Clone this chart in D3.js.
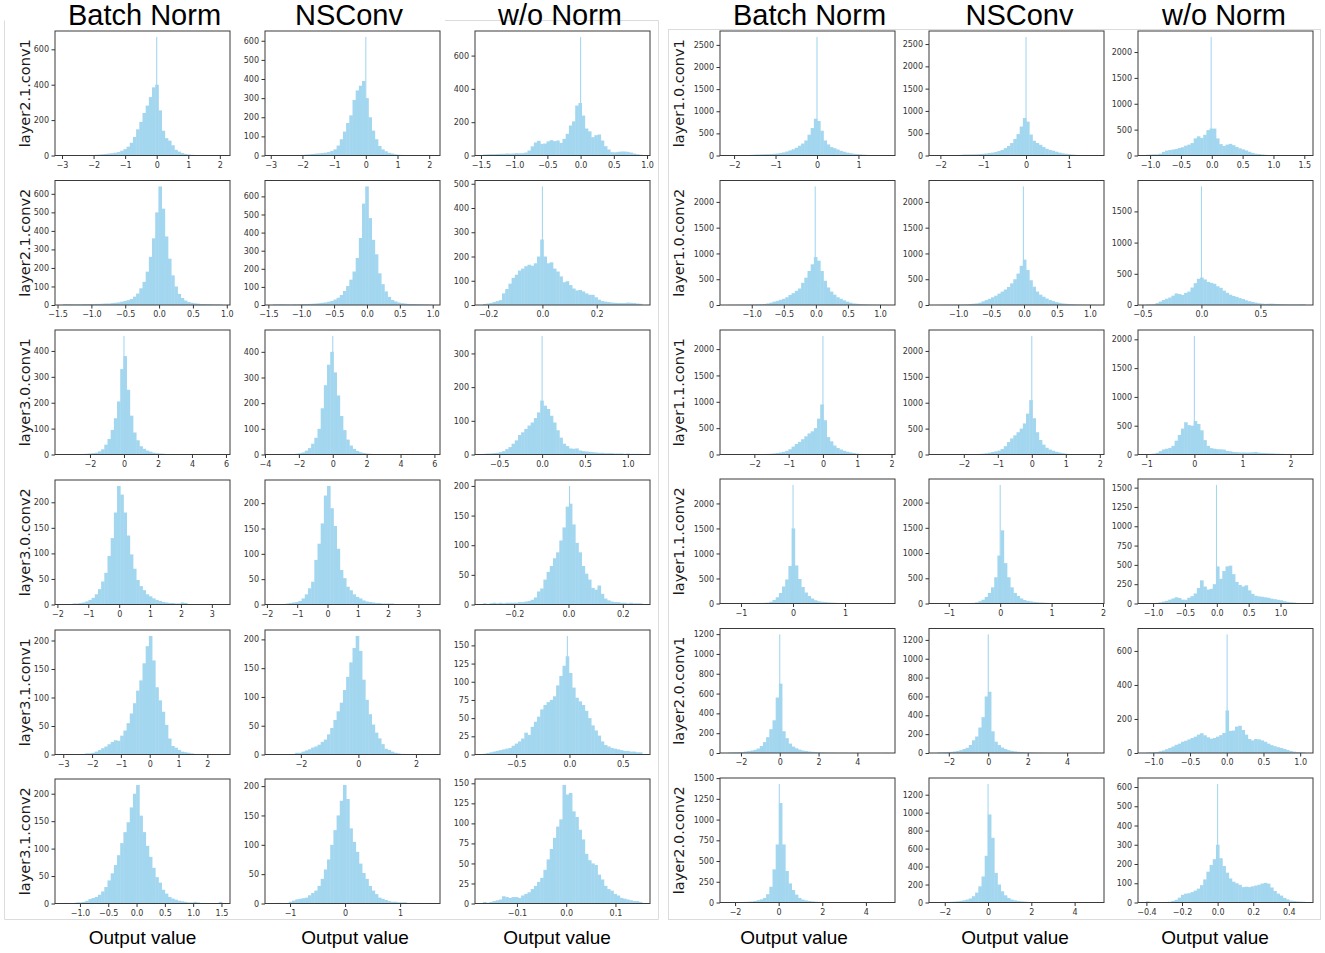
<!DOCTYPE html>
<html><head><meta charset="utf-8">
<script src="https://cdn.jsdelivr.net/npm/d3@7"></script>
<style>body{margin:0;background:#fff}</style>
</head><body><svg id="c" width="1325" height="953"></svg>
<script>
// ---------------- DATA ----------------
const methods = ["Batch Norm", "NSConv", "w/o Norm"];
const rowLabelsLeft = ["layer2.1.conv1","layer2.1.conv2","layer3.0.conv1","layer3.0.conv2","layer3.1.conv1","layer3.1.conv2"];
const rowLabelsRight = ["layer1.0.conv1","layer1.0.conv2","layer1.1.conv1","layer1.1.conv2","layer2.0.conv1","layer2.0.conv2"];
const xAxisTitle = "Output value";

// histogram counts, 50 equal-width bins over binRanges[i]
const L_BN_1 = [1,1,0,1,1,1,2,2,2,3,4,5,7,9,11,13,16,20,27,36,50,72,105,148,190,240,282,330,385,400,255,140,98,84,58,32,22,14,9,6,4,2,1,1,1,0,0,1,0,1];
const L_NS_1 = [0,1,0,1,1,1,1,2,2,3,5,6,8,10,11,13,15,18,24,32,52,85,125,170,210,290,340,365,390,300,200,130,85,50,32,22,14,10,6,4,3,2,1,1,1,0,0,0,0,1];
const L_WO_1 = [6,7,8,8,9,10,10,12,11,12,14,13,14,18,30,55,78,88,70,72,85,92,86,90,76,100,130,180,205,300,315,240,162,145,110,122,126,90,56,36,20,19,22,24,24,22,18,12,8,5];
const L_BN_2 = [4,4,4,3,3,3,4,4,5,5,6,6,7,8,8,10,12,14,18,22,26,32,45,62,90,125,180,260,360,500,640,520,370,250,160,100,60,38,24,16,12,9,7,5,5,4,4,3,3,2];
const L_NS_2 = [3,3,4,3,3,2,3,3,4,5,5,6,7,8,10,12,14,18,22,30,40,55,78,105,140,185,260,370,560,655,480,360,280,175,115,75,45,28,20,14,10,8,6,5,5,4,4,3,3,2];
const L_WO_2 = [4,6,8,12,16,20,48,66,88,112,125,142,150,160,166,162,172,200,270,200,172,176,150,138,118,94,98,82,68,60,62,56,48,42,42,32,22,16,14,12,10,9,8,8,8,10,9,8,6,5];
const L_BN_3 = [0,0,0,0,1,1,2,3,4,5,7,12,20,38,60,95,140,205,330,380,250,150,85,55,32,22,15,11,7,5,4,3,2,2,1,1,1,1,0,1,0,0,1,0,0,0,0,0,0,1];
const L_NS_3 = [0,0,0,0,0,1,2,3,5,8,15,25,42,65,100,180,270,350,400,320,230,150,95,58,35,22,14,9,6,4,3,2,2,2,1,1,1,0,1,0,0,0,0,0,0,0,0,0,0,1];
const L_WO_3 = [2,3,3,4,5,7,10,16,22,32,42,58,66,76,86,95,108,125,160,145,135,115,95,72,50,32,25,18,17,18,12,10,9,8,7,6,5,5,4,4,4,3,3,3,2,3,2,2,2,2];
const L_BN_4 = [1,1,1,2,2,3,4,6,9,13,20,30,45,62,95,130,180,232,215,180,135,98,70,48,36,28,20,16,12,9,7,5,4,3,3,2,2,4,3,1,1,1,1,1,0,1,0,0,1,1];
const L_NS_4 = [1,1,1,1,2,3,4,5,7,12,20,32,45,88,120,160,215,234,190,155,110,68,52,35,28,20,15,12,8,6,5,4,3,3,2,2,2,2,1,1,1,1,1,1,0,1,0,0,1,1];
const L_WO_4 = [2,1,2,3,2,3,2,3,3,3,3,4,4,5,6,8,12,22,27,42,55,65,78,88,108,130,165,170,135,104,88,65,52,42,28,25,32,18,10,7,5,4,4,3,3,2,3,2,2,2];
const L_BN_5 = [0,0,0,0,0,0,1,2,2,3,5,8,11,14,18,22,25,24,33,42,55,72,90,112,130,160,190,208,165,118,95,75,52,28,15,12,8,5,4,3,2,1,1,0,0,0,0,0,0,0];
const L_NS_5 = [0,0,0,0,0,0,1,3,3,5,7,9,12,14,17,22,26,35,46,60,75,90,112,135,160,185,206,180,130,95,70,52,38,28,18,10,8,5,3,2,1,1,0,0,0,0,0,0,0,0];
const L_WO_5 = [1,2,3,4,5,6,7,8,9,12,15,18,22,30,27,38,45,52,62,68,72,75,80,95,108,122,135,112,92,78,73,68,60,50,40,33,26,18,13,11,9,8,7,6,5,5,4,4,3,3];
const L_BN_6 = [1,1,0,1,2,2,3,5,8,10,12,16,22,30,42,55,70,88,110,130,148,175,200,216,160,130,105,85,65,48,38,25,18,12,9,7,5,4,3,2,2,3,2,1,1,0,0,0,1,3];
const L_NS_6 = [0,1,1,0,1,3,5,7,8,9,10,14,18,22,30,42,58,75,100,125,150,175,202,178,128,105,88,68,52,42,30,22,16,10,8,6,4,3,3,2,2,2,1,1,1,0,1,0,0,1];
const L_WO_6 = [2,1,2,3,4,5,9,8,7,8,8,7,10,12,14,18,22,27,32,42,55,68,82,96,105,148,136,138,115,108,92,80,62,54,50,48,36,30,22,18,16,12,10,7,6,5,4,3,3,2];

const R_BN_1 = [3,4,5,6,8,10,12,15,20,22,25,28,30,34,38,45,55,70,90,115,140,175,220,270,340,470,620,830,780,560,340,250,190,165,135,105,85,65,52,40,32,26,20,14,10,7,5,4,3,3];
const R_NS_1 = [2,2,3,3,4,5,8,15,22,23,24,25,28,32,38,45,55,65,80,100,125,165,215,280,370,480,650,840,760,470,330,280,240,190,150,125,108,85,65,50,40,30,22,15,12,8,5,4,3,3];
const R_WO_1 = [15,18,20,22,35,70,95,105,115,125,145,160,190,210,240,330,370,340,400,490,520,520,330,220,185,210,225,200,165,138,118,98,72,50,35,28,20,14,10,7,5,4,3,2,2,2,1,1,2,6];
const R_BN_2 = [3,3,4,4,5,5,6,8,10,12,15,20,30,45,65,80,100,120,150,195,230,275,320,430,530,660,790,930,860,660,470,340,260,200,150,120,90,65,45,30,24,18,14,10,8,6,5,4,3,3];
const R_NS_2 = [3,3,4,4,5,5,6,7,8,10,18,24,30,45,70,95,120,150,180,220,260,300,350,420,500,610,760,880,680,480,355,260,200,160,125,97,75,55,42,30,24,18,14,10,8,6,5,4,3,3];
const R_WO_2 = [5,8,10,30,55,80,100,120,150,185,175,160,195,215,280,350,420,440,410,370,355,340,300,275,230,195,165,145,130,110,95,75,60,48,38,28,22,18,20,21,18,14,12,10,9,8,8,7,9,10];
const R_BN_3 = [3,4,4,5,5,5,6,6,7,8,9,10,12,15,20,28,38,50,70,100,150,200,240,290,345,400,440,500,680,950,650,330,250,170,125,95,70,52,40,28,18,12,7,5,4,3,2,2,1,1];
const R_NS_3 = [3,3,4,4,4,5,5,5,6,6,7,8,10,12,16,22,35,48,60,75,105,160,240,310,370,430,500,600,790,1050,700,430,280,190,130,95,72,52,38,26,16,10,6,4,3,2,2,1,1,1];
const R_WO_3 = [6,10,15,30,58,88,100,115,150,240,340,450,560,510,500,580,530,420,250,150,110,100,92,90,85,62,55,45,40,36,35,34,35,38,44,32,28,25,22,20,16,14,12,10,9,8,6,5,4,3];
const R_BN_4 = [3,4,4,5,6,6,7,8,9,11,12,14,18,35,70,125,210,340,480,750,1500,760,490,330,220,150,100,65,45,35,28,22,18,15,12,10,9,8,7,6,5,5,5,4,4,4,3,3,2,2];
const R_NS_4 = [3,3,4,4,5,5,6,7,8,9,10,12,22,45,75,130,210,320,520,950,1450,800,520,320,210,150,100,70,52,42,32,25,20,16,13,10,9,8,7,6,5,5,4,4,4,3,3,3,3,2];
const R_WO_4 = [2,3,5,8,15,25,35,50,65,80,72,50,48,75,95,130,200,300,220,180,190,250,480,320,420,480,490,380,280,240,220,235,170,125,100,92,87,80,74,62,56,48,42,30,22,16,13,8,5,3];
const R_BN_5 = [4,5,6,7,9,14,19,25,32,45,70,110,160,240,330,560,700,220,150,95,65,48,34,25,20,15,12,9,6,5,4,3,2,2,1,1,1,1,0,0,0,0,0,0,0,0,0,0,0,1];
const R_NS_5 = [5,6,8,10,12,16,22,30,42,55,85,135,175,270,380,600,650,230,120,85,58,42,30,22,17,13,10,8,6,5,4,3,3,2,2,1,1,1,0,0,0,0,0,0,0,0,0,0,0,1];
const R_WO_5 = [2,3,4,6,10,15,22,30,38,48,55,66,72,80,88,96,108,116,104,92,84,88,96,105,118,250,130,132,155,160,135,108,82,74,82,80,74,66,55,46,40,34,30,24,18,12,8,5,4,3];
const R_BN_6 = [3,4,5,6,7,8,10,13,18,28,38,55,100,190,400,700,1200,700,380,230,150,95,55,35,25,18,14,10,8,6,4,3,3,2,2,1,1,1,1,0,0,0,0,0,0,0,0,0,0,1];
const R_NS_6 = [3,4,5,6,8,10,13,18,24,33,45,70,110,180,290,520,980,720,330,200,125,80,50,33,24,18,13,10,7,6,4,3,3,2,2,1,1,1,1,0,0,0,0,0,0,0,0,0,0,1];
const R_WO_6 = [6,3,1,1,1,2,3,4,8,14,25,40,46,48,54,62,72,90,120,160,195,225,300,230,190,155,125,108,100,92,80,82,80,84,88,92,98,102,98,78,60,46,36,24,16,10,8,6,5,4];

// order: panel (left,right) -> row -> column (BN, NSConv, w/o Norm)
const countsList = [
  L_BN_1,L_NS_1,L_WO_1, L_BN_2,L_NS_2,L_WO_2, L_BN_3,L_NS_3,L_WO_3,
  L_BN_4,L_NS_4,L_WO_4, L_BN_5,L_NS_5,L_WO_5, L_BN_6,L_NS_6,L_WO_6,
  R_BN_1,R_NS_1,R_WO_1, R_BN_2,R_NS_2,R_WO_2, R_BN_3,R_NS_3,R_WO_3,
  R_BN_4,R_NS_4,R_WO_4, R_BN_5,R_NS_5,R_WO_5, R_BN_6,R_NS_6,R_WO_6
];
// value range covered by the bins [min, max]
const binRanges = [
  [-2.97,2.07],[-2.93,2.09],[-1.47,0.925],
  [-1.42,0.93],[-1.43,0.99],[-0.219,0.367],
  [-3.59,5.77],[-3.53,5.86],[-0.69,1.166],
  [-1.82,3.33],[-1.80,3.45],[-0.315,0.271],
  [-3.01,2.51],[-2.97,2.56],[-0.812,0.681],
  [-1.30,1.51],[-1.31,1.58],[-0.169,0.154],
  [-2.148,1.69],[-2.08,1.635],[-1.067,1.512],
  [-1.371,1.11],[-1.322,1.093],[-0.47,0.878],
  [-2.77,1.87],[-2.79,1.89],[-1.008,2.303],
  [-1.251,1.807],[-1.23,1.865],[-1.112,1.385],
  [-2.67,5.53],[-2.6,5.465],[-1.10,1.066],
  [-2.325,4.97],[-2.36,4.99],[-0.4025,0.491]
];
// single tall bin near zero: [x, count]
const spikes = [
  [0,670],[0,620],[0,712],
  null,null,[0,489],
  [0,458],[0,462],[0,352],
  null,null,[0.004,200],
  null,null,[-0.02,163],
  null,null,null,
  [0,2680],[0,2660],[-0.01,2292],
  [-0.01,2300],[-0.01,2300],[0,1900],
  [0,2250],[0,2290],[0,2059],
  [0,2370],[0,2350],[-0.005,1535],
  [0,1197],[0,1258],[0.005,697],
  [0.03,1430],[0,1320],[0,616]
];
const xTicks = [
  [-3,-2,-1,0,1,2],[-3,-2,-1,0,1,2],[-1.5,-1.0,-0.5,0.0,0.5,1.0],
  [-1.5,-1.0,-0.5,0.0,0.5,1.0],[-1.5,-1.0,-0.5,0.0,0.5,1.0],[-0.2,0.0,0.2],
  [-2,0,2,4,6],[-4,-2,0,2,4,6],[-0.5,0.0,0.5,1.0],
  [-2,-1,0,1,2,3],[-2,-1,0,1,2,3],[-0.2,0.0,0.2],
  [-3,-2,-1,0,1,2],[-2,0,2],[-0.5,0.0,0.5],
  [-1.0,-0.5,0.0,0.5,1.0,1.5],[-1,0,1],[-0.1,0.0,0.1],
  [-2,-1,0,1],[-2,-1,0,1],[-1.0,-0.5,0.0,0.5,1.0,1.5],
  [-1.0,-0.5,0.0,0.5,1.0],[-1.0,-0.5,0.0,0.5,1.0],[-0.5,0.0,0.5],
  [-2,-1,0,1,2],[-2,-1,0,1,2],[-1,0,1,2],
  [-1,0,1],[-1,0,1,2],[-1.0,-0.5,0.0,0.5,1.0],
  [-2,0,2,4],[-2,0,2,4],[-1.0,-0.5,0.0,0.5,1.0],
  [-2,0,2,4],[-2,0,2,4],[-0.4,-0.2,0.0,0.2,0.4]
];
const xTickDecimals = [
  0,0,1, 1,1,1, 0,0,1, 0,0,1, 0,0,1, 1,0,1,
  0,0,1, 1,1,1, 0,0,0, 0,0,1, 0,0,1, 0,0,1
];
const yTickStep = [
  200,100,200, 100,100,100, 100,100,100, 50,50,50, 50,50,25, 50,50,25,
  500,500,500, 500,500,500, 500,500,500, 500,500,250, 200,200,200, 250,200,100
];

// ---------------- LAYOUT ----------------
const colLeft = [[55,265,475],[720,929,1138]];
const rowTop = [[31,180.5,330,480,630,779],[31,180.5,330,479,628.5,778]];
const axW = 175, axH = 124.5;
const headerX = [[144.5,349,560],[809.5,1019.5,1224]];
const footerX = [[142.5,355,557],[794,1015,1215]];
const rowLabelX = [29.5,683.5];
const barColor = "#a3d6ef";

const svg = d3.select("#c");

// panel frames
const frame = svg.append("g").attr("stroke","#dcdcdc").attr("stroke-width",1).attr("fill","none");
frame.append("path").attr("d","M445,20.5H658.5V919.5H4.5V20.5");
frame.append("rect").attr("x",668.5).attr("y",29.5).attr("width",652).attr("height",890);

for (let p = 0; p < 2; p++) {
  for (let r = 0; r < 6; r++) {
    for (let c = 0; c < 3; c++) {
      const idx = p*18 + r*3 + c;
      const counts = countsList[idx];
      const [lo, hi] = binRanges[idx];
      const R = hi - lo;
      const sp = spikes[idx];
      const maxC = Math.max(d3.max(counts), sp ? sp[1] : 0);
      const left = colLeft[p][c], top = rowTop[p][r];
      const x = d3.scaleLinear().domain([lo - 0.05*R, hi + 0.05*R]).range([left, left + axW]);
      const y = d3.scaleLinear().domain([0, maxC*1.05]).range([top + axH, top]);
      const w = R / counts.length;
      const g = svg.append("g");
      g.selectAll("rect.bar").data(counts).join("rect")
        .attr("class","bar")
        .attr("x", (d,i) => x(lo + i*w))
        .attr("width", x(lo + w) - x(lo) + 0.4)
        .attr("y", d => y(d))
        .attr("height", d => y(0) - y(d))
        .attr("fill", barColor);
      if (sp) {
        const sw = R/150;
        g.append("rect")
          .attr("x", x(sp[0] - sw/2)).attr("width", x(lo+sw) - x(lo))
          .attr("y", y(sp[1])).attr("height", y(0) - y(sp[1]))
          .attr("fill", barColor);
      }
      const fmt = d3.format(xTickDecimals[idx] ? ".1f" : "d");
      const xa = g.append("g").attr("transform", `translate(0,${top+axH})`)
        .call(d3.axisBottom(x).tickValues(xTicks[idx]).tickFormat(fmt).tickSize(3.5).tickPadding(3));
      const yt = d3.range(0, maxC*1.05 + 1e-9, yTickStep[idx]);
      const ya = g.append("g").attr("transform", `translate(${left},0)`)
        .call(d3.axisLeft(y).tickValues(yt).tickFormat(d3.format("d")).tickSize(3.5).tickPadding(2.5));
      [xa, ya].forEach(a => {
        a.select(".domain").remove();
        a.selectAll("line").attr("stroke","#333");
        a.selectAll("text").attr("fill","#333").attr("font-size","8px").attr("font-family","DejaVu Sans");
      });
      g.append("rect").attr("x",left).attr("y",top).attr("width",axW).attr("height",axH)
        .attr("fill","none").attr("stroke","#3a3a3a").attr("stroke-width",1);
      if (c === 0) {
        const lab = (p === 0 ? rowLabelsLeft : rowLabelsRight)[r];
        const cy = top + axH/2;
        svg.append("text").attr("transform", `translate(${rowLabelX[p]},${cy}) rotate(-90)`)
          .attr("text-anchor","middle").attr("font-family","DejaVu Sans").attr("font-size","14.5px")
          .attr("fill","#1a1a1a").text(lab);
      }
    }
  }
  for (let c = 0; c < 3; c++) {
    svg.append("text").attr("x", headerX[p][c]).attr("y", 25).attr("text-anchor","middle")
      .attr("font-family","Liberation Sans").attr("font-size","29px").attr("fill","#000").text(methods[c]);
    svg.append("text").attr("x", footerX[p][c]).attr("y", 944).attr("text-anchor","middle")
      .attr("font-family","Liberation Sans").attr("font-size","19px").attr("fill","#000").text(xAxisTitle);
  }
}
</script></body></html>
